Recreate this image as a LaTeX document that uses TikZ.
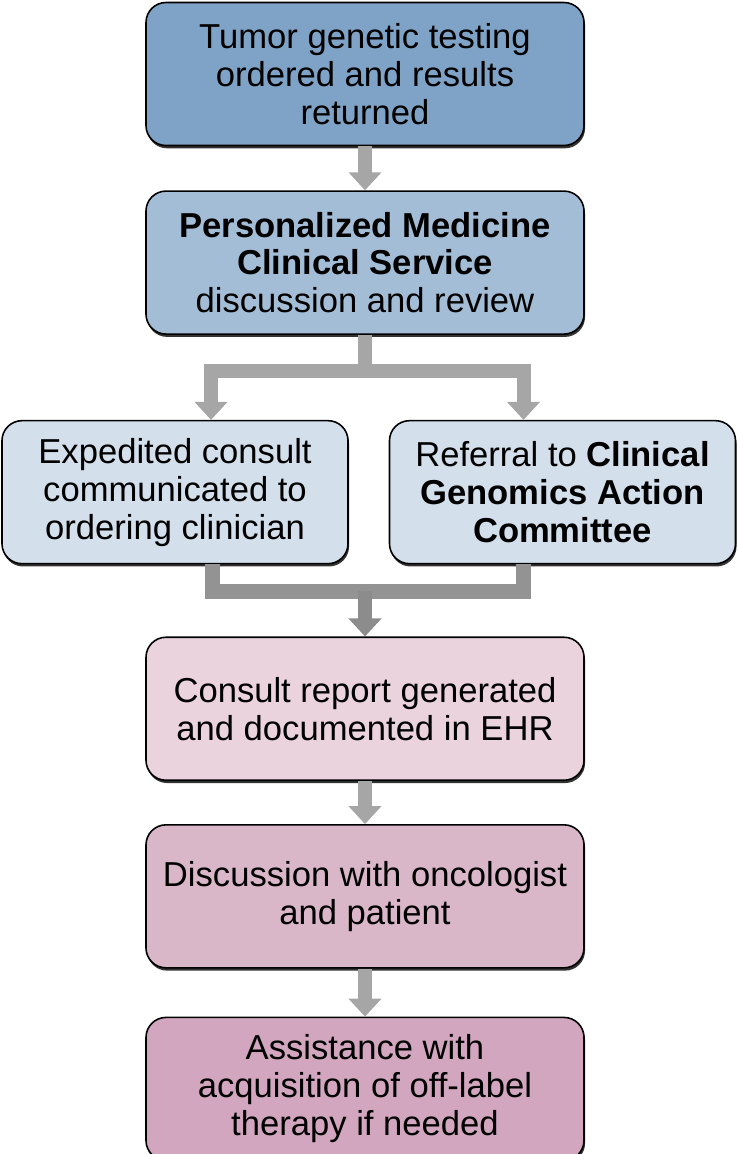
\documentclass[tikz,border=0pt]{standalone}
\usepackage{fontspec}
\setmainfont{Liberation Sans}
\usepackage{tikz}
\usetikzlibrary{arrows.meta, positioning, calc, shadows}
\definecolor{pmdark}{RGB}{127,163,198}
\definecolor{pmblue}{RGB}{163,189,214}
\definecolor{pmpale}{RGB}{211,224,236}
\definecolor{pmrose}{RGB}{235,211,222}
\definecolor{pmpink}{RGB}{217,182,200}
\definecolor{pmmauve}{RGB}{209,166,190}

\begin{document}
\begin{tikzpicture}[node distance=0.88cm,
  box/.style={rectangle, rounded corners=0.4cm, draw=black, line width=0.9pt, minimum width=8.76cm, minimum height=2.86cm, align=center, font=\fontsize{19.7}{21.6}\selectfont, drop shadow={shadow xshift=0.6pt, shadow yshift=-1.6pt, opacity=0.8, fill=black}},
  side/.style={box, minimum width=6.92cm},
  arr/.style={draw=gray!70, line width=0.28cm, line join=miter, -{Triangle[width=0.64cm, length=0.36cm]}},
  bar/.style={draw=gray!85, line width=0.3cm, line join=miter}
]
\useasboundingbox (0,0) rectangle (14.74,-23.08);
\node[box, fill=pmdark] (test) at (7.3,-1.48) {Tumor genetic testing\\ordered and results\\returned};
\node[box, fill=pmblue, below=0.88cm of test] (pmcs) {\textbf{Personalized Medicine}\\\textbf{Clinical Service}\\discussion and review};
\node[side, fill=pmpale, below=1.7cm of pmcs, xshift=-3.8cm] (exp) {Expedited consult\\communicated to\\ordering clinician};
\node[side, fill=pmpale, below=1.7cm of pmcs, xshift=3.95cm] (ref) {Referral to \textbf{Clinical}\\\textbf{Genomics Action}\\\textbf{Committee}};
\node[box, fill=pmrose, below=1.44cm of exp, xshift=3.8cm] (rep) {Consult report generated\\and documented in EHR};
\node[box, fill=pmpink, below=0.86cm of rep] (onc) {Discussion with oncologist\\and patient};
\node[box, fill=pmmauve, below=0.96cm of onc] (acq) {Assistance with\\acquisition of off-label\\therapy if needed};
% connectors
\draw[arr] (test) -- (pmcs);
\draw[arr] (pmcs.south) -- ++(0,-0.72) -| ([xshift=0.72cm]exp.north);
\draw[arr] (pmcs.south) -- ++(0,-0.72) -| ([xshift=-0.78cm]ref.north);
\coordinate (join) at ($(rep.north)+(0,0.9)$);
\draw[bar] ([xshift=0.74cm]exp.south) |- (join) -| ([xshift=-0.79cm]ref.south);
\draw[arr, draw=gray!90] (join) -- (rep.north);
\draw[arr] (rep) -- (onc);
\draw[arr] (onc) -- (acq);
\end{tikzpicture}
\end{document}
